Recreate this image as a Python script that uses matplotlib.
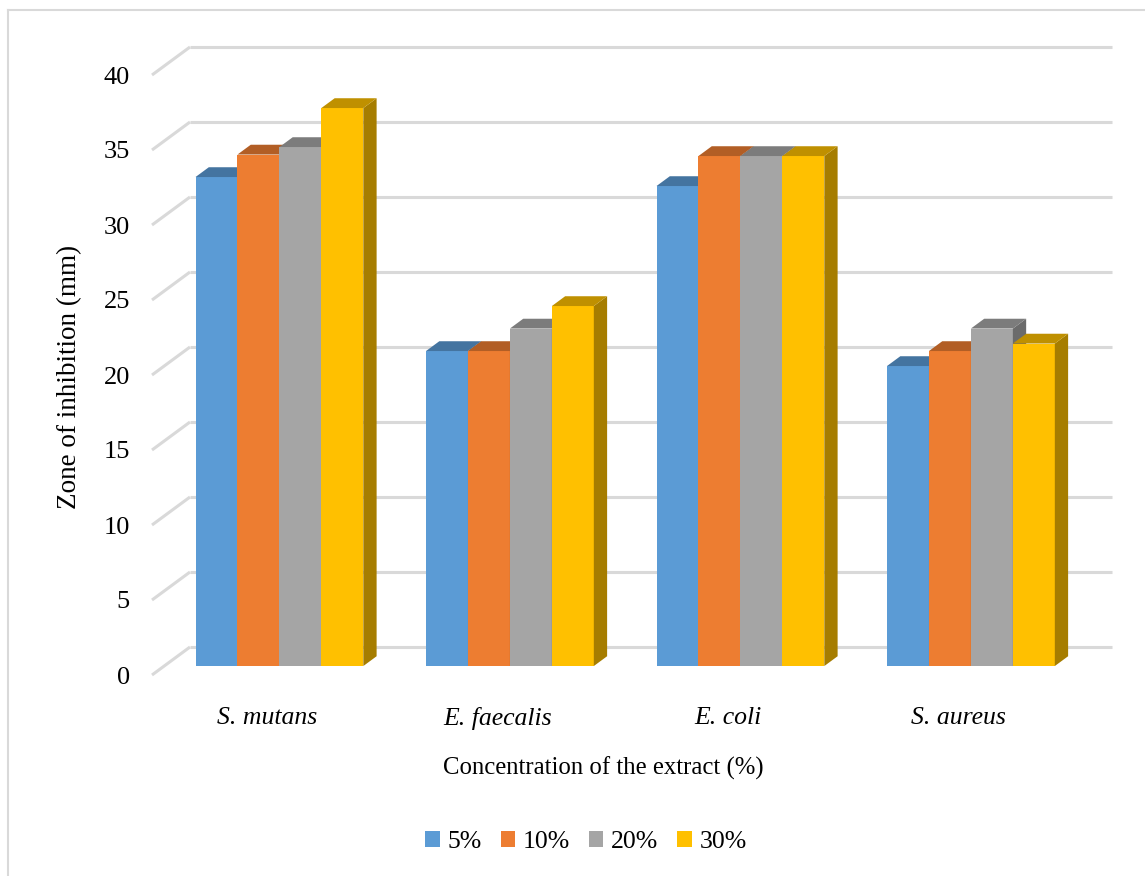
import matplotlib
matplotlib.use('Agg')
import matplotlib.pyplot as plt
from matplotlib.patches import Polygon, Patch
from matplotlib.colors import to_rgb
import numpy as np

# Data
bacteria = ['S. mutans', 'E. faecalis', 'E. coli', 'S. aureus']
concentrations = ['5%', '10%', '20%', '30%']
conc_5 = [32.6, 21.0, 32.0, 20.0]
conc_10 = [34.1, 21.0, 34.0, 21.0]
conc_20 = [34.6, 22.5, 34.0, 22.5]
conc_30 = [37.2, 24.0, 34.0, 21.5]
series = [conc_5, conc_10, conc_20, conc_30]
colors = ['#5B9BD5', '#ED7D31', '#A5A5A5', '#FFC000']
yticks = list(range(0, 41, 5))

plt.rcParams['font.family'] = ['Liberation Serif', 'DejaVu Serif']

W, H = 1145, 876
fig = plt.figure(figsize=(W / 100, H / 100), dpi=100)

# front plane of the 3D box: x from 152 to 1074 px, y=0 at 675 px, y=40 at 75 px
ax = fig.add_axes([152 / W, (H - 675) / H, (1074 - 152) / W, 600 / H])
ax.set_xlim(-0.5, 3.5)
ax.set_ylim(0, 40)
for s in ax.spines.values():
    s.set_visible(False)
ax.set_xticks([])
ax.set_yticks(yticks)
ax.set_yticklabels([str(t) for t in yticks], fontsize=19)
ax.tick_params(axis='y', length=0, pad=16)

# depth of the box, in data units
px_x = (1074 - 152) / 4.0
px_y = 600 / 40.0
dxf = 38 / px_x
dyf = 28 / px_y

grid_c = '#D9D9D9'
for v in yticks:
    ax.plot([-0.5, -0.5 + dxf], [v, v + dyf], color=grid_c, lw=2.2,
            clip_on=False, zorder=0, solid_capstyle='butt')
    ax.plot([-0.5 + dxf, 3.5 + dxf], [v + dyf, v + dyf], color=grid_c, lw=2.2,
            clip_on=False, zorder=0, solid_capstyle='butt')


def shade(c, k):
    r, g, b = to_rgb(c)
    return (r * k, g * k, b * k)


# bars sit between depth fractions f0 and f1
f0, f1 = 0.32, 0.67
w = 0.182
x = np.arange(len(bacteria))
z = 2
for i in range(len(bacteria)):
    for j, vals in enumerate(series):
        v = vals[i]
        x0 = x[i] - 2 * w + j * w + f0 * dxf
        y0 = f0 * dyf
        ddx = (f1 - f0) * dxf
        ddy = (f1 - f0) * dyf
        ax.bar(x0, v, width=w, bottom=y0, align='edge', color=colors[j],
               linewidth=0, zorder=z, clip_on=False)
        top = Polygon([(x0, y0 + v), (x0 + w, y0 + v), (x0 + w + ddx, y0 + v + ddy),
                       (x0 + ddx, y0 + v + ddy)], closed=True,
                      facecolor=shade(colors[j], 0.75), edgecolor='none',
                      zorder=z + 0.1, clip_on=False)
        side = Polygon([(x0 + w, y0), (x0 + w + ddx, y0 + ddy), (x0 + w + ddx, y0 + v + ddy),
                        (x0 + w, y0 + v)], closed=True,
                       facecolor=shade(colors[j], 0.65), edgecolor='none',
                       zorder=z + 0.05, clip_on=False)
        ax.add_patch(top)
        ax.add_patch(side)
        z += 1

for i, name in enumerate(bacteria):
    ax.annotate(name, (x[i], 0), xytext=(0, -31), textcoords='offset points',
                ha='center', va='center', fontsize=18.5, style='italic')

fig.text(603 / W, 1 - 768 / H, 'Concentration of the extract (%)',
         ha='center', va='center', fontsize=17.8)
fig.text(70 / W, 1 - 377 / H, 'Zone of inhibition (mm)', rotation=90,
         ha='center', va='center', fontsize=19.5)

handles = [Patch(facecolor=c, edgecolor='none') for c in colors]
fig.legend(handles, concentrations, loc='center', bbox_to_anchor=(586 / W, 1 - 842 / H),
           ncol=4, frameon=False, fontsize=18.5, handlelength=0.55, handleheight=0.55,
           handletextpad=0.3, columnspacing=0.75)

# outer chart frame (left and top edges visible)
fig.add_artist(plt.Line2D([8 / W, 8 / W], [0, 1 - 10 / H], color=grid_c, lw=1.5,
                          transform=fig.transFigure))
fig.add_artist(plt.Line2D([8 / W, 1], [1 - 10 / H, 1 - 10 / H], color=grid_c, lw=1.5,
                          transform=fig.transFigure))

fig.savefig('out.png', dpi=100)
